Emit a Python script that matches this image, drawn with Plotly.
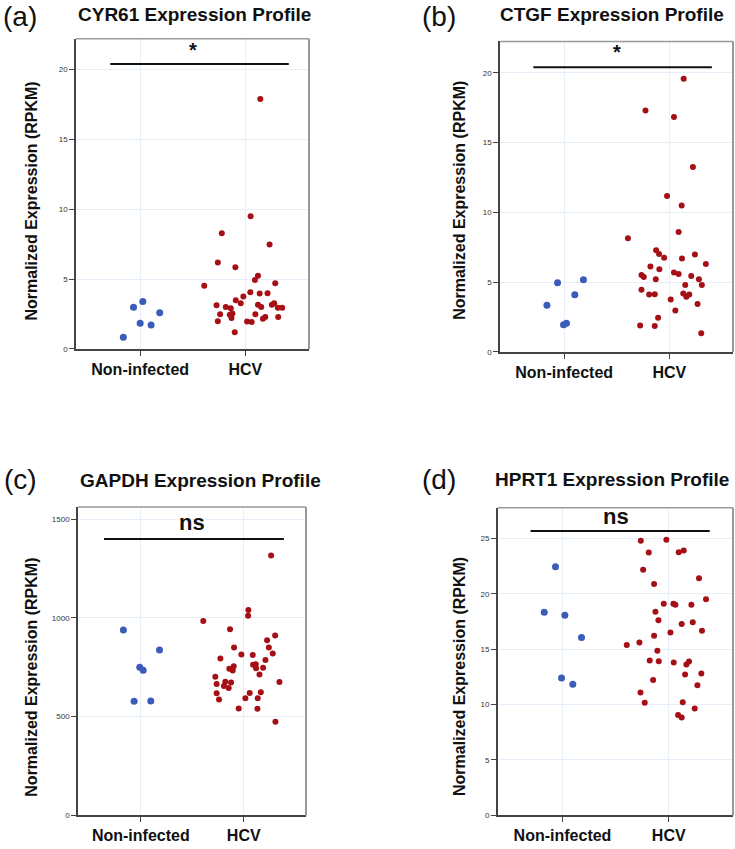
import plotly.graph_objects as go

# ---------------- data ----------------
categories = ["Non-infected", "HCV"]
panel_letters = ["(a)", "(b)", "(c)", "(d)"]
titles = ["CYR61 Expression Profile", "CTGF Expression Profile",
          "GAPDH Expression Profile", "HPRT1 Expression Profile"]
sig_labels = ["*", "*", "ns", "ns"]

# (a) CYR61
a_ni_jit = [-0.16, -0.063, 0.025, 0, 0.104, 0.186]
a_ni_val = [0.83, 2.99, 3.39, 1.83, 1.71, 2.59]
a_hcv_jit = [0.142, 0.050, -0.224, 0.230, -0.262, -0.095, 0.120, 0.091, 0.284, -0.391,
             0.047, 0.136, 0.211, -0.019, -0.091, -0.044, -0.274, -0.186, -0.139, 0.120,
             0.151, 0.252, 0.274, 0.309, 0.350, -0.240, -0.123, -0.148, -0.132, 0.095,
             0.189, 0.167, 0.312, -0.262, 0.016, 0.060, -0.101]
a_hcv_val = [17.89, 9.49, 8.28, 7.47, 6.19, 5.84, 5.24, 4.93, 4.70, 4.53,
             4.06, 3.96, 3.99, 3.75, 3.49, 3.27, 3.13, 3.01, 2.92, 3.16,
             3.01, 3.16, 3.27, 2.94, 2.94, 2.49, 2.54, 2.44, 2.21, 2.49,
             2.28, 2.16, 2.28, 1.99, 1.97, 1.92, 1.19]

# (b) CTGF
b_ni_jit = [-0.164, -0.063, -0.006, 0.022, 0.101, 0.183]
b_ni_val = [3.34, 4.95, 1.94, 2.06, 4.09, 5.18]
b_hcv_jit = [0.136, -0.227, 0.044, 0.224, -0.022, 0.117, 0.088, -0.394, -0.126, -0.098,
             -0.050, 0.243, 0.120, 0.347, -0.180, -0.095, -0.265, -0.243, 0.044, 0.088,
             0.208, -0.129, 0.281, 0.151, 0.309, -0.265, -0.192, -0.139, 0.132, 0.161,
             0.189, 0.013, 0.268, 0.057, -0.107, -0.278, -0.139, 0.303]
b_hcv_val = [19.57, 17.30, 16.83, 13.25, 11.17, 10.49, 8.59, 8.14, 7.29, 7.01,
             6.75, 6.98, 6.70, 6.30, 6.13, 5.92, 5.51, 5.37, 5.70, 5.59,
             5.44, 5.21, 5.21, 4.80, 4.80, 4.45, 4.12, 4.14, 4.19, 3.95,
             4.12, 3.76, 3.43, 2.96, 2.44, 1.89, 1.85, 1.33]

# (c) GAPDH
c_ni_jit = [-0.169, -0.065, -0.010, 0.023, 0.097, 0.182]
c_ni_val = [939, 578, 750, 735, 579, 837]
c_hcv_jit = [0.266, 0.045, 0.042, -0.393, -0.133, 0.305, 0.227, -0.094, 0.244, 0.282,
             -0.023, 0.088, -0.227, 0.211, -0.097, 0.091, 0.117, -0.140, -0.107, 0.120,
             0.188, 0.153, -0.276, -0.179, -0.123, 0.347, -0.263, -0.192, -0.146, -0.263,
             0.058, 0.166, -0.240, 0.016, 0.136, -0.049, 0.133, 0.308]
c_hcv_val = [1316, 1040, 1011, 984, 943, 911, 887, 850, 850, 820,
             815, 812, 794, 787, 755, 763, 765, 742, 733, 745,
             747, 713, 701, 676, 673, 675, 665, 655, 645, 618,
             619, 623, 586, 593, 593, 541, 539, 474]

# (d) HPRT1
d_ni_jit = [-0.066, -0.172, 0.022, 0.179, -0.009, 0.097]
d_ni_val = [22.46, 18.34, 18.07, 16.07, 12.40, 11.83]
d_hcv_jit = [-0.263, -0.022, -0.188, 0.094, 0.141, -0.241, 0.285, -0.138, 0.351, -0.047,
             0.044, 0.063, 0.213, -0.125, -0.097, 0.226, 0.122, 0.313, 0.016, -0.138,
             -0.276, -0.395, -0.107, -0.179, -0.094, 0.047, 0.191, 0.166, 0.154, 0.307,
             -0.147, 0.270, -0.266, -0.226, 0.132, 0.245, 0.088, 0.122]
d_hcv_val = [24.82, 24.91, 23.75, 23.78, 23.92, 22.19, 21.42, 20.91, 19.53, 19.12,
             19.12, 19.03, 19.03, 18.40, 17.62, 17.44, 17.29, 16.67, 16.52, 16.22,
             15.62, 15.38, 14.87, 13.98, 13.92, 13.80, 13.89, 13.62, 12.72, 12.81,
             12.22, 11.74, 11.08, 10.16, 10.21, 9.65, 9.05, 8.84]

# y tick values and significance bar data
y_ticks = [[0, 5, 10, 15, 20], [0, 5, 10, 15, 20], [0, 500, 1000, 1500], [0, 5, 10, 15, 20, 25]]
y_max = [22.2, 22.25, 1562, 27.8]
sig_bar_y = [20.4, 20.4, 1400, 25.69]
sig_text_y = [21.4, 21.5, 1482, 26.97]
sig_bar_x = [(-0.284, 1.413), (-0.293, 1.404), (-0.357, 1.390), (-0.301, 1.386)]

panels = [
    (a_ni_jit, a_ni_val, a_hcv_jit, a_hcv_val),
    (b_ni_jit, b_ni_val, b_hcv_jit, b_hcv_val),
    (c_ni_jit, c_ni_val, c_hcv_jit, c_hcv_val),
    (d_ni_jit, d_ni_val, d_hcv_jit, d_hcv_val),
]

# ---------------- layout geometry (pixels) ----------------
W, H = 735, 849
plot_px = [(76, 309, 39, 351), (500, 733, 41.7, 354), (78, 306, 510, 820), (497.7, 733, 510.7, 820)]
letter_pos = [(20, 17), (438.6, 17), (20, 482), (438.6, 482)]
title_pos = [(194.5, 15), (612, 15), (200, 483), (612, 482)]
ytitle_pos = [(31.7, 202), (460, 202), (31.7, 681), (460, 681)]

FONT = "Liberation Sans, Arial, sans-serif"
BLUE = "#3b5cb8"
RED = "#a50f15"
GRID = "#e6eefa"

fig = go.Figure()
layout = dict(width=W, height=H, margin=dict(l=0, r=0, t=0, b=0),
              paper_bgcolor="white", plot_bgcolor="white", showlegend=False,
              font=dict(family=FONT, color="#000"))
annotations = []
shapes = []


def ann(**kw):
    d = dict(showarrow=False, xanchor="center", yanchor="middle")
    d.update(kw)
    annotations.append(d)


for i, (nij, niv, hj, hv) in enumerate(panels):
    n = "" if i == 0 else str(i + 1)
    xa, ya = "x" + n, "y" + n
    fig.add_trace(go.Scatter(x=[0 + j for j in nij], y=niv, mode="markers",
                             marker=dict(color=BLUE, size=7), xaxis=xa, yaxis=ya,
                             name=categories[0]))
    fig.add_trace(go.Scatter(x=[1 + j for j in hj], y=hv, mode="markers",
                             marker=dict(color=RED, size=6), xaxis=xa, yaxis=ya,
                             name=categories[1]))
    x0, x1, y0, y1 = plot_px[i]
    layout["xaxis" + n] = dict(
        domain=[x0 / W, x1 / W], range=[-0.61, 1.605], anchor=ya,
        tickvals=[0, 1], ticktext=categories, showgrid=True, gridcolor=GRID,
        zeroline=False, showline=True, linecolor="#444", linewidth=1.5,
        ticks="outside", ticklen=5, tickcolor="#444",
        tickfont=dict(size=16, weight="bold", family=FONT, color="#111"))
    layout["yaxis" + n] = dict(
        domain=[1 - y1 / H, 1 - y0 / H], range=[0, y_max[i]], anchor=xa,
        tickvals=y_ticks[i], showgrid=True, gridcolor=GRID, zeroline=False,
        showline=True, linecolor="#444", linewidth=1.5,
        ticks="outside", ticklen=5, tickcolor="#444",
        tickfont=dict(size=8, family=FONT, color="#333"))
    # frame top/right
    shapes.append(dict(type="line", xref="paper", yref="paper",
                       x0=x0 / W, x1=x1 / W, y0=1 - y0 / H, y1=1 - y0 / H,
                       line=dict(color="#999", width=1.5)))
    shapes.append(dict(type="line", xref="paper", yref="paper",
                       x0=x1 / W, x1=x1 / W, y0=1 - y1 / H, y1=1 - y0 / H,
                       line=dict(color="#999", width=2)))
    # significance bar
    shapes.append(dict(type="line", xref=xa, yref=ya,
                       x0=sig_bar_x[i][0], x1=sig_bar_x[i][1],
                       y0=sig_bar_y[i], y1=sig_bar_y[i],
                       line=dict(color="#111", width=2)))
    ann(xref=xa, yref=ya, x=0.5, y=sig_text_y[i], text=sig_labels[i],
        font=dict(size=22 if sig_labels[i] == "ns" else 20, weight="bold", color="#111"))
    lx, ly = letter_pos[i]
    ann(xref="paper", yref="paper", x=lx / W, y=1 - ly / H, text=panel_letters[i],
        font=dict(size=28, color="#111"))
    tx, ty = title_pos[i]
    ann(xref="paper", yref="paper", x=tx / W, y=1 - ty / H, text=titles[i],
        font=dict(size=19, weight="bold", color="#111"))
    yx, yy = ytitle_pos[i]
    ann(xref="paper", yref="paper", x=yx / W, y=1 - yy / H,
        text="Normalized Expression (RPKM)", textangle=-90,
        font=dict(size=16, weight="bold", color="#111"))

layout["annotations"] = annotations
layout["shapes"] = shapes
fig.update_layout(**layout)
fig.write_html("out.html")
